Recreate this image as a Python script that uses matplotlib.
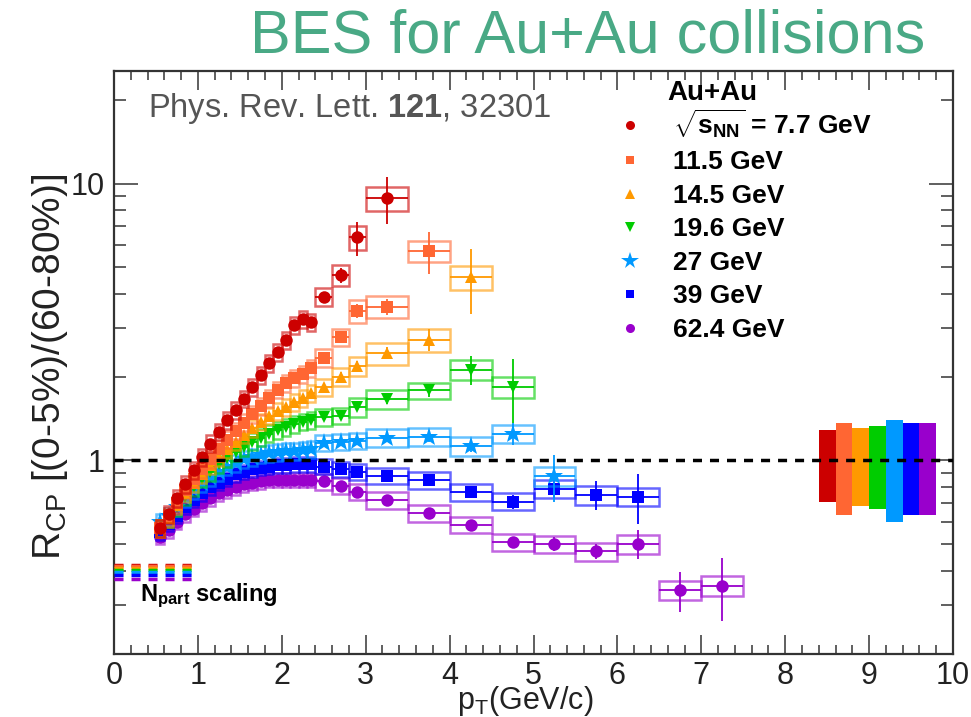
import numpy as np
import matplotlib.pyplot as plt
from matplotlib.patches import Rectangle
from matplotlib.lines import Line2D
from matplotlib.ticker import MultipleLocator, FixedLocator, NullFormatter

plt.rcParams['font.family'] = ['Liberation Sans', 'DejaVu Sans']
plt.rcParams['mathtext.fontset'] = 'custom'
plt.rcParams['mathtext.rm'] = 'Liberation Sans'
plt.rcParams['mathtext.bf'] = 'Liberation Sans:bold'
plt.rcParams['mathtext.it'] = 'Liberation Sans:italic'

# ---- data: charged hadron R_CP, Au+Au BES ----
energies = ['7.7', '11.5', '14.5', '19.6', '27', '39', '62.4']
colors = ['#cc0000', '#ff6633', '#ff9900', '#00cc00', '#0099ff', '#0000ff', '#9900cc']
markers = ['o', 's', '^', 'v', '*', 's', 'o']

# low pT bins (0.1 GeV/c wide)
pt_low = [0.55, 0.65, 0.75, 0.85, 0.95, 1.05, 1.15, 1.25, 1.35, 1.45,
          1.55, 1.65, 1.75, 1.85, 1.95, 2.05, 2.15, 2.25, 2.35]
# high pT bins
pt_high = [2.5, 2.7, 2.9, 3.25, 3.75, 4.25, 4.75, 5.25, 5.75, 6.25, 6.75, 7.25]
width_high = [0.2, 0.2, 0.2, 0.5, 0.5, 0.5, 0.5, 0.5, 0.5, 0.5, 0.5, 0.5]

rcp_low_7p7 = [0.57, 0.64, 0.73, 0.82, 0.92, 1.03, 1.15, 1.27, 1.40, 1.52,
               1.67, 1.84, 2.03, 2.24, 2.46, 2.72, 3.08, 3.23, 3.16]
rcp_low_11p5 = [0.57, 0.63, 0.70, 0.78, 0.86, 0.93, 1.01, 1.10, 1.19, 1.28,
                1.37, 1.47, 1.57, 1.68, 1.80, 1.90, 1.98, 2.05, 2.15]
rcp_low_14p5 = [0.57, 0.62, 0.69, 0.76, 0.83, 0.89, 0.96, 1.03, 1.10, 1.17,
                1.24, 1.31, 1.38, 1.45, 1.51, 1.56, 1.62, 1.68, 1.75]
rcp_low_19p6 = [0.57, 0.62, 0.68, 0.74, 0.80, 0.86, 0.91, 0.97, 1.02, 1.07,
                1.12, 1.17, 1.21, 1.25, 1.29, 1.32, 1.35, 1.38, 1.40]
rcp_low_27 = [0.60, 0.63, 0.68, 0.73, 0.78, 0.83, 0.87, 0.91, 0.95, 0.98,
              1.01, 1.03, 1.05, 1.06, 1.07, 1.08, 1.08, 1.09, 1.10]
rcp_low_39 = [0.55, 0.59, 0.63, 0.68, 0.72, 0.76, 0.80, 0.83, 0.86, 0.89,
              0.91, 0.93, 0.94, 0.95, 0.96, 0.96, 0.97, 0.97, 0.97]
rcp_low_62p4 = [0.53, 0.56, 0.60, 0.64, 0.67, 0.70, 0.73, 0.76, 0.78, 0.80,
                0.82, 0.83, 0.84, 0.85, 0.85, 0.85, 0.85, 0.85, 0.85]
sys_frac_low = [0.07, 0.07, 0.07, 0.07, 0.07, 0.06, 0.06]

rcp_high_7p7 = [3.90, 4.67, 6.39, 8.84]
stat_7p7 = [0.15, 0.30, 0.90, 1.70]
sys_7p7 = [0.28, 0.42, 0.62, 0.85]

rcp_high_11p5 = [2.35, 2.79, 3.47, 3.59, 5.71]
stat_11p5 = [0.08, 0.12, 0.20, 0.25, 1.00]
sys_11p5 = [0.17, 0.20, 0.33, 0.33, 0.50]

rcp_high_14p5 = [1.84, 2.00, 2.19, 2.44, 2.73, 4.58]
stat_14p5 = [0.05, 0.08, 0.10, 0.12, 0.25, 1.20]
sys_14p5 = [0.13, 0.15, 0.17, 0.22, 0.26, 0.45]

rcp_high_19p6 = [1.43, 1.45, 1.56, 1.66, 1.79, 2.13, 1.84]
stat_19p6 = [0.03, 0.04, 0.05, 0.06, 0.10, 0.25, 0.48]
sys_19p6 = [0.10, 0.10, 0.12, 0.13, 0.12, 0.18, 0.16]

rcp_high_27 = [1.16, 1.17, 1.18, 1.21, 1.22, 1.13, 1.25, 0.88]
stat_27 = [0.02, 0.02, 0.03, 0.03, 0.05, 0.06, 0.11, 0.17]
sys_27 = [0.08, 0.08, 0.08, 0.09, 0.09, 0.09, 0.09, 0.07]

rcp_high_39 = [0.95, 0.93, 0.91, 0.88, 0.85, 0.77, 0.71, 0.79, 0.75, 0.74]
stat_39 = [0.01, 0.01, 0.01, 0.02, 0.02, 0.03, 0.04, 0.06, 0.09, 0.15]
sys_39 = [0.06, 0.06, 0.06, 0.06, 0.06, 0.055, 0.05, 0.06, 0.06, 0.055]

rcp_high_62p4 = [0.84, 0.81, 0.77, 0.72, 0.645, 0.585, 0.506, 0.50, 0.47, 0.50, 0.34, 0.353]
stat_62p4 = [0.01, 0.01, 0.01, 0.01, 0.015, 0.015, 0.02, 0.03, 0.03, 0.06, 0.057, 0.09]
sys_62p4 = [0.055, 0.055, 0.05, 0.05, 0.045, 0.04, 0.035, 0.035, 0.035, 0.04, 0.027, 0.03]

# N_part scaling expectation for each energy
npart_scaling = [0.420, 0.415, 0.410, 0.403, 0.395, 0.385, 0.372]
# normalization uncertainty band (lower, upper)
norm_lo = [0.71, 0.633, 0.687, 0.669, 0.598, 0.633, 0.633]
norm_hi = [1.29, 1.37, 1.31, 1.33, 1.40, 1.37, 1.37]

rcp_low = [rcp_low_7p7, rcp_low_11p5, rcp_low_14p5, rcp_low_19p6,
           rcp_low_27, rcp_low_39, rcp_low_62p4]
rcp_high = [rcp_high_7p7, rcp_high_11p5, rcp_high_14p5, rcp_high_19p6,
            rcp_high_27, rcp_high_39, rcp_high_62p4]
stat_high = [stat_7p7, stat_11p5, stat_14p5, stat_19p6, stat_27, stat_39, stat_62p4]
sys_high = [sys_7p7, sys_11p5, sys_14p5, sys_19p6, sys_27, sys_39, sys_62p4]

marker_size = [9, 8, 9, 9, 14, 8, 9]

fig = plt.figure(figsize=(9.71, 7.17), dpi=100)
ax = fig.add_axes([0.1174, 0.0879, 0.8641, 0.8131])

# draw 62.4 first so that 7.7 ends up on top
for k, i in enumerate(reversed(range(len(energies)))):
    n = len(rcp_high[i])
    x = np.array(pt_low + pt_high[:n])
    y = np.array(rcp_low[i] + rcp_high[i])
    w = np.array([0.1] * len(pt_low) + width_high[:n])
    stat = np.array([0.0] * len(pt_low) + stat_high[i])
    sys = np.array([sys_frac_low[i] * v for v in rcp_low[i]] + sys_high[i])
    zb = 3 + 2 * k
    for xi, yi, wi, si in zip(x, y, w, sys):
        ax.add_patch(Rectangle((xi - wi / 2, yi - si), wi, 2 * si, fill=False,
                               ec=colors[i], lw=1.8, alpha=0.6, zorder=zb))
    ax.errorbar(x, y, xerr=w / 2, yerr=stat, fmt=markers[i], color=colors[i],
                ms=marker_size[i], mew=0, elinewidth=1.3, capsize=3,
                zorder=zb + 1)

# normalization uncertainties
x_norm = 8.5 + 0.2 * np.arange(len(energies))
ax.bar(x_norm, np.array(norm_hi) - np.array(norm_lo), bottom=norm_lo,
       width=0.2, color=colors, zorder=2)

# N_part scaling ticks at low pT
for i in range(len(energies)):
    ax.hlines(npart_scaling[i], 0, 1, color=colors[i], lw=2.5,
              linestyles=(0, (2.6, 2.3)), zorder=3)
ax.text(0.31, 0.311, r'N$_{\mathbf{part}}$ scaling', fontsize=17,
        fontweight='bold', va='baseline', ha='left')

ax.axhline(1, color='black', lw=2.5, ls=(0, (2.6, 2.3)), zorder=40)

# axes
ax.set_xlim(0, 10)
ax.set_yscale('log')
ax.set_ylim(0.2, 25.5)
ax.xaxis.set_major_locator(MultipleLocator(1))
ax.xaxis.set_minor_locator(MultipleLocator(0.2))
ax.set_yticks([1, 10])
ax.set_yticklabels(['1', '10'])
ax.yaxis.set_minor_locator(FixedLocator([0.2, 0.3, 0.4, 0.5, 0.6, 0.7, 0.8, 0.9,
                                         2, 3, 4, 5, 6, 7, 8, 9, 20]))
ax.yaxis.set_minor_formatter(NullFormatter())
ax.tick_params(which='both', direction='in', top=True, right=True,
               color='#444444', width=1.2, labelsize=22, labelcolor='#222222')
ax.tick_params(axis='x', which='major', length=13.5, pad=5)
ax.tick_params(axis='x', which='minor', length=6.5)
ax.tick_params(axis='y', which='major', length=17, pad=7)
ax.tick_params(axis='y', which='minor', length=8.6)
for s in ax.spines.values():
    s.set_linewidth(1.6)
    s.set_color('#333333')

fig.text(50 / 971, 1 - 367 / 717, r'R$_{\mathrm{CP}}$ [(0-5%)/(60-80%)]',
         rotation=90, ha='center', va='center', fontsize=28, color='#222222')
fig.text(525 / 971, 1 - 709 / 717, r'p$_{\mathrm{T}}$(GeV/c)', ha='center',
         va='baseline', fontsize=22, color='#222222')

ax.text(0.0405, 0.9365, r'Phys. Rev. Lett. $\mathbf{121}$, 32301',
        transform=ax.transAxes, fontsize=23.5, color='#555555', va='center')

# legend
ax.text(0.66, 0.962, 'Au+Au', transform=ax.transAxes, fontsize=20,
        fontweight='bold', va='center')
labels = [r'$\sqrt{\mathbf{s}_{\mathbf{NN}}}$ = 7.7 GeV'] + \
         [e + ' GeV' for e in energies[1:]]
legend_ms = [6.5, 6, 6.5, 6.5, 13, 6, 6.5]
handles = [Line2D([], [], ls='none', marker=markers[i], color=colors[i],
                  ms=legend_ms[i], mew=0) for i in range(len(energies))]
ax.legend(handles, labels, loc='upper left', bbox_to_anchor=(0.603, 0.937),
          frameon=False, prop={'weight': 'bold', 'size': 19},
          handlelength=0.8, handletextpad=1.2, labelspacing=0.36,
          borderpad=0, borderaxespad=0)

fig.text(0.953, 1 - 37 / 717, 'BES for Au+Au collisions', ha='right',
         va='center', fontsize=44, color='#49a985')

fig.savefig('out.png', dpi=100)
